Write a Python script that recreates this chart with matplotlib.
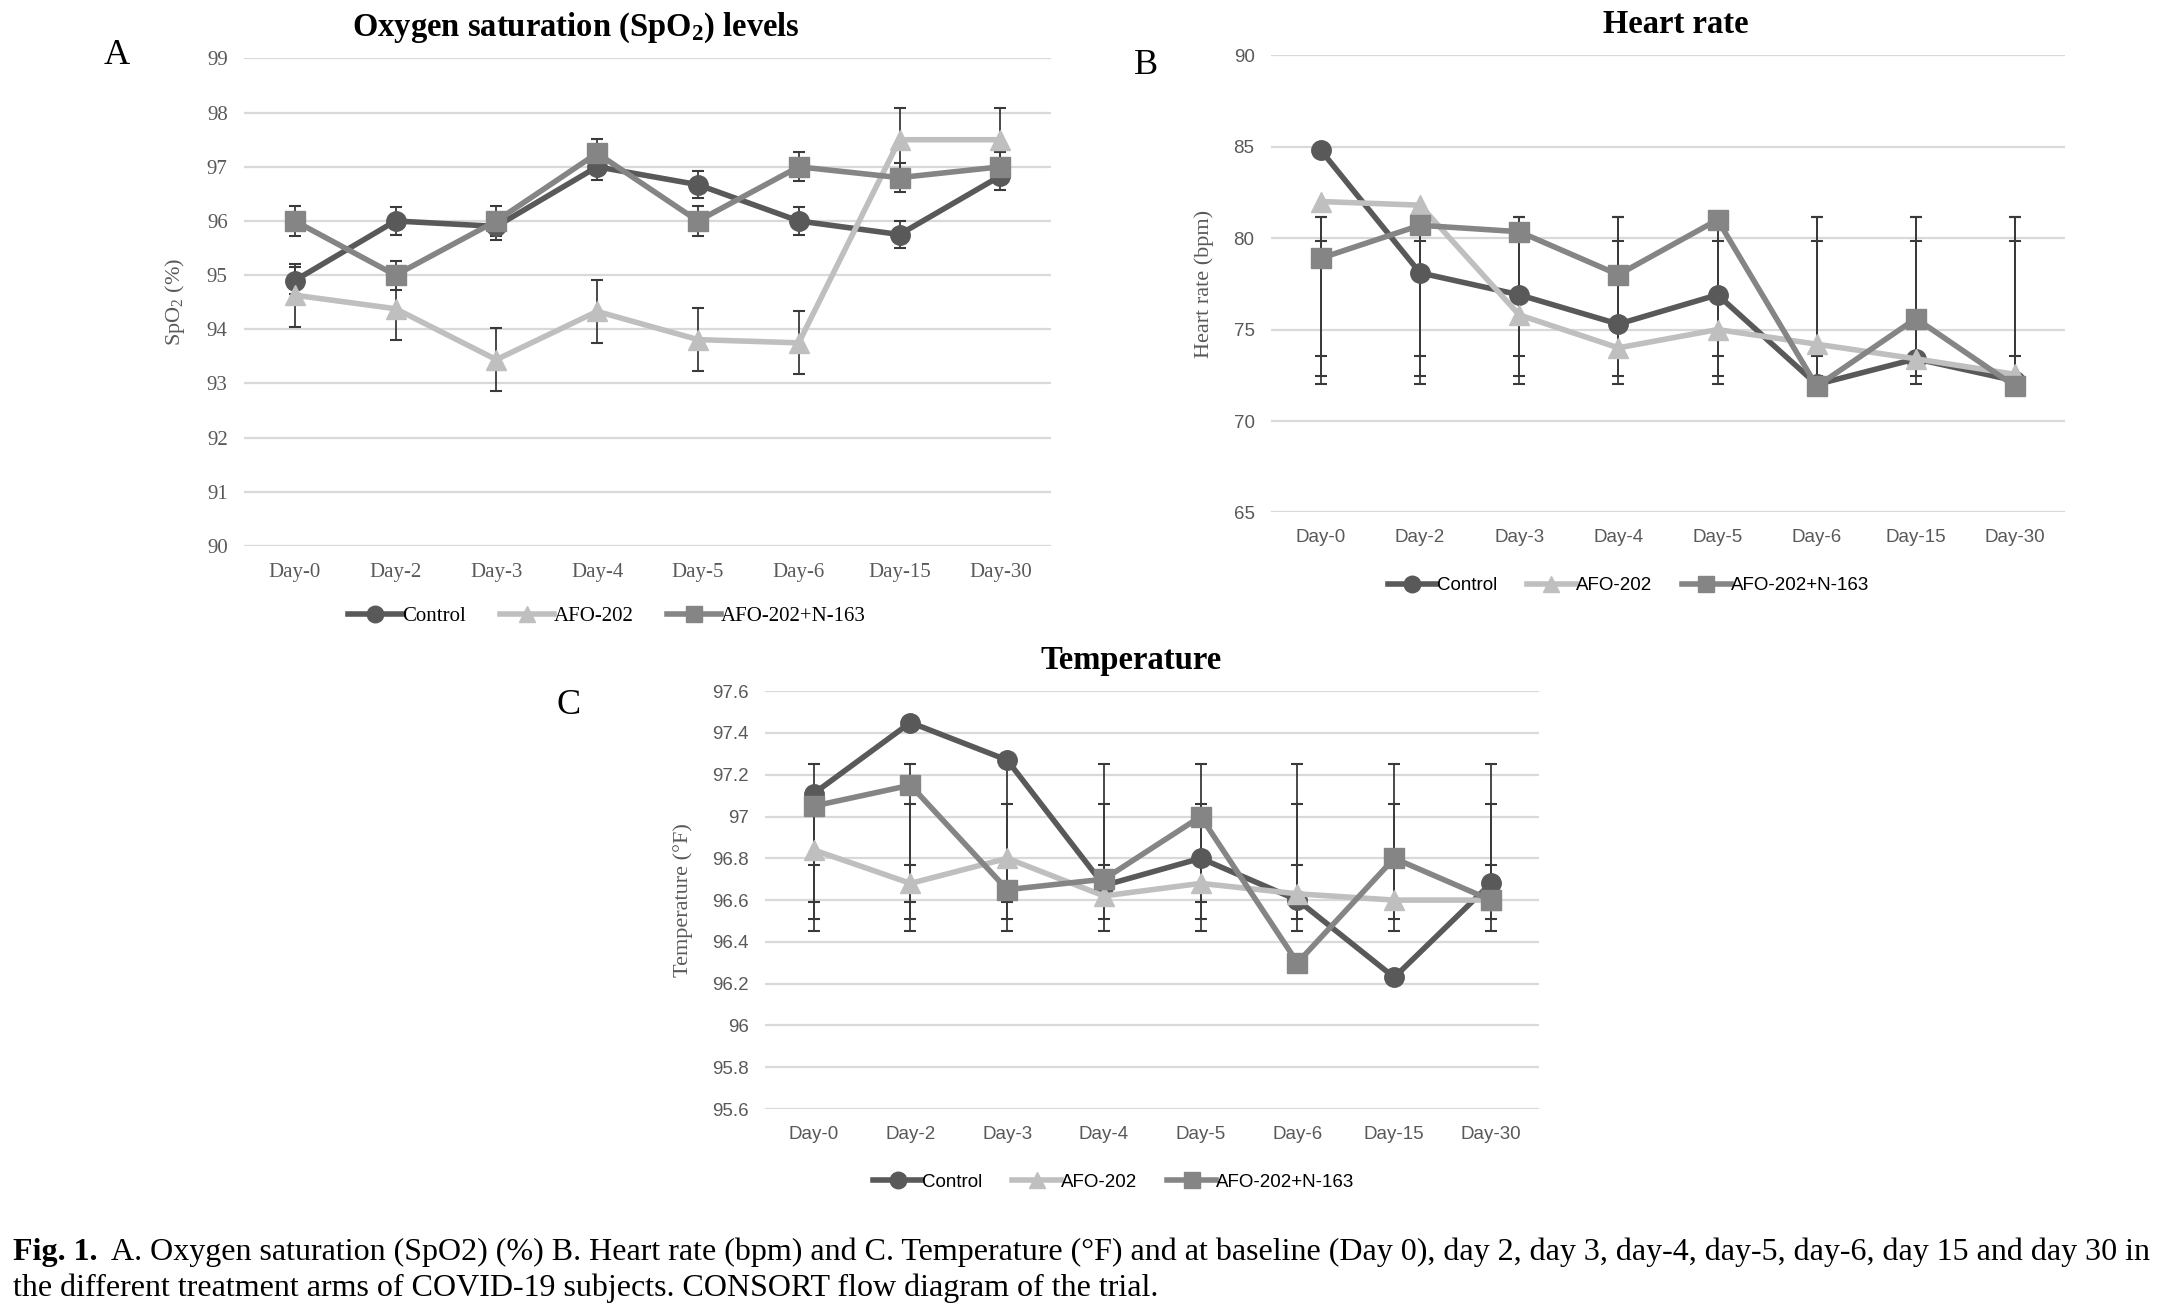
import matplotlib
matplotlib.use("Agg")
import matplotlib.pyplot as plt
import numpy as np

# ---- data ----
days = ['Day-0', 'Day-2', 'Day-3', 'Day-4', 'Day-5', 'Day-6', 'Day-15', 'Day-30']
groups = ['Control', 'AFO-202', 'AFO-202+N-163']

spo2_control = [94.9, 96.0, 95.9, 97.0, 96.67, 96.0, 95.75, 96.83]
spo2_afo = [94.63, 94.38, 93.44, 94.33, 93.81, 93.75, 97.5, 97.5]
spo2_n163 = [96.0, 95.0, 96.0, 97.25, 96.0, 97.0, 96.8, 97.0]
spo2_err = [0.25, 0.58, 0.27]  # symmetric error per group

hr_control = [84.8, 78.1, 76.9, 75.3, 76.9, 72.0, 73.4, 72.2]
hr_afo = [82.0, 81.8, 75.8, 74.0, 75.0, 74.2, 73.4, 72.55]
hr_n163 = [78.9, 80.7, 80.35, 78.0, 81.0, 71.9, 75.6, 71.9]
hr_err_low = [72.05, 72.44, 73.58]
hr_err_high = [81.13, 79.83, 81.13]

temp_control = [97.11, 97.45, 97.27, 96.67, 96.8, 96.6, 96.23, 96.68]
temp_afo = [96.84, 96.68, 96.8, 96.62, 96.68, 96.63, 96.6, 96.6]
temp_n163 = [97.05, 97.15, 96.65, 96.7, 97.0, 96.3, 96.8, 96.6]
temp_err_low = [96.45, 96.51, 96.59]
temp_err_high = [97.25, 97.06, 96.77]

colors = ['#595959', '#bfbfbf', '#858585']
markers = ['o', '^', 's']
serif = ['Liberation Serif', 'DejaVu Serif']
narrow = ['Liberation Sans Narrow', 'Liberation Sans', 'DejaVu Sans']

plt.rcParams['mathtext.fontset'] = 'custom'
plt.rcParams['mathtext.rm'] = 'Liberation Serif'
plt.rcParams['mathtext.bf'] = 'Liberation Serif:bold'
plt.rcParams['mathtext.default'] = 'regular'

fig = plt.figure(figsize=(21.62, 13.14), dpi=100)


def panel(rect, series, lows, highs, ylim, yticks, title, title_x, ylabel, letter,
          letter_xy, tick_font, tick_size, legend_y):
    ax = fig.add_axes(rect)
    x = np.arange(len(days))
    for i, vals in enumerate(series):
        lo = np.full(len(days), lows[i]) if np.ndim(lows[i]) == 0 else np.array(lows[i])
        hi = np.full(len(days), highs[i]) if np.ndim(highs[i]) == 0 else np.array(highs[i])
        ax.vlines(x, lo, hi, color='#3a3a3a', lw=1.3, zorder=2)
        ax.plot(x, lo, ls='none', marker='_', ms=9, mew=1.5, color='#3a3a3a', zorder=2)
        ax.plot(x, hi, ls='none', marker='_', ms=9, mew=1.5, color='#3a3a3a', zorder=2)
    for i, vals in enumerate(series):
        ax.plot(x, vals, color=colors[i], lw=4, marker=markers[i], ms=14,
                label=groups[i], zorder=3 + i)
    ax.set_xlim(-0.5, len(days) - 0.5)
    ax.set_ylim(*ylim)
    ax.set_yticks(yticks)
    ax.set_yticklabels([f'{v:g}' for v in yticks])
    ax.set_xticks(x)
    ax.set_xticklabels(days)
    ax.grid(axis='y', color='#d9d9d9', lw=1.6)
    ax.set_axisbelow(True)
    for s in ax.spines.values():
        s.set_visible(False)
    ax.tick_params(length=0, colors='#595959', pad=12)
    for lab in ax.get_xticklabels() + ax.get_yticklabels():
        lab.set_family(tick_font)
        lab.set_fontsize(tick_size)
    ax.set_ylabel(ylabel, family=serif, fontsize=16, color='#595959', labelpad=14)
    ax.set_title(title, family=serif, fontweight='bold', fontsize=23.5, pad=16,
                 x=title_x)
    fig.text(letter_xy[0], letter_xy[1], letter, family=serif, fontsize=26,
             ha='center', va='center')
    ax.legend(loc='center', bbox_to_anchor=(0.45, legend_y), ncol=3, frameon=False,
              prop={'family': tick_font, 'size': tick_size}, handlelength=2.6,
              handletextpad=0.0, columnspacing=1.6, markerscale=0.85)
    return ax


panel([0.113, 0.5845, 0.373, 0.371],
      [spo2_control, spo2_afo, spo2_n163],
      [np.array(spo2_control) - spo2_err[0], np.array(spo2_afo) - spo2_err[1],
       np.array(spo2_n163) - spo2_err[2]],
      [np.array(spo2_control) + spo2_err[0], np.array(spo2_afo) + spo2_err[1],
       np.array(spo2_n163) + spo2_err[2]],
      (90, 99), np.arange(90, 100, 1), r'Oxygen saturation (SpO$_\mathbf{2}$) levels', 0.411,
      r'SpO$_2$ (%)', 'A', (0.054, 0.958), serif, 15, -0.145)

panel([0.588, 0.610, 0.367, 0.348],
      [hr_control, hr_afo, hr_n163], hr_err_low, hr_err_high,
      (65, 90), np.arange(65, 91, 5), 'Heart rate', 0.51, 'Heart rate (bpm)',
      'B', (0.530, 0.950), narrow, 13.5, -0.16)

panel([0.354, 0.156, 0.358, 0.318],
      [temp_control, temp_afo, temp_n163], temp_err_low, temp_err_high,
      (95.6, 97.6), np.round(np.arange(95.6, 97.61, 0.2), 1), 'Temperature', 0.473,
      'Temperature (°F)', 'C', (0.263, 0.463), narrow, 13.5, -0.175)

# caption
fig.canvas.draw()
r = fig.canvas.get_renderer()
t1 = fig.text(0.006, 0.041, 'Fig. 1.', family=serif, fontweight='bold', fontsize=23,
              va='baseline')
bb = t1.get_window_extent(renderer=r)
x2 = (bb.x1 + 14) / fig.bbox.width
fig.text(x2, 0.041,
         'A. Oxygen saturation (SpO2) (%) B. Heart rate (bpm) and C. Temperature (°F) and at '
         'baseline (Day 0), day 2, day 3, day-4, day-5, day-6, day 15 and day 30 in',
         family=serif, fontsize=23, va='baseline')
fig.text(0.006, 0.014,
         'the different treatment arms of COVID-19 subjects. CONSORT flow diagram of the trial.',
         family=serif, fontsize=23, va='baseline')

fig.savefig('out.png', dpi=100, facecolor='white')
